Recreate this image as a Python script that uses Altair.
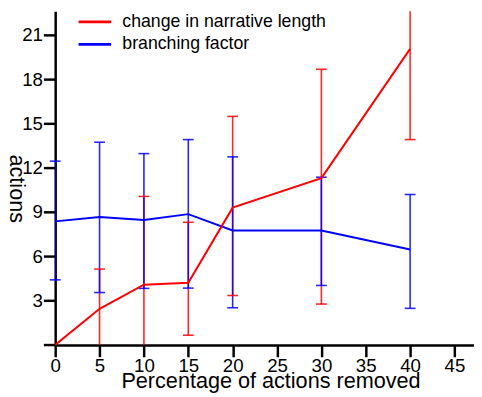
import altair as alt
import pandas as pd

# ---- data ----
pct_removed = [0, 5, 10, 15, 20, 30, 40]
narr_mean = [0.0, 2.45, 4.08, 4.21, 9.3, 11.3, 20.05]
narr_lo = [0.0, -0.3, -1.9, 0.66, 3.35, 2.77, 13.91]
narr_hi = [0.0, 5.14, 10.06, 8.31, 15.48, 18.67, 26.2]
branch_mean = [8.37, 8.66, 8.46, 8.86, 7.75, 7.75, 6.47]
branch_lo = [4.41, 3.55, 3.83, 3.85, 2.52, 4.03, 2.48]
branch_hi = [12.45, 13.73, 12.96, 13.91, 12.74, 11.36, 10.19]
series_names = ["change in narrative length", "branching factor"]
series_colors = ["#ff0000", "#0000ff"]
x_ticks = [0, 5, 10, 15, 20, 25, 30, 35, 40, 45]
y_ticks = [0, 3, 6, 9, 12, 15, 18, 21]
X_MAX = 47.2
Y_MAX = 22.6

rows = []
for i, p in enumerate(pct_removed):
    rows.append(dict(pct=p, val=narr_mean[i], lo=narr_lo[i], hi=narr_hi[i],
                     series=series_names[0]))
for i, p in enumerate(pct_removed):
    rows.append(dict(pct=p, val=branch_mean[i], lo=branch_lo[i], hi=branch_hi[i],
                     series=series_names[1]))
df = pd.DataFrame(rows)

FONT = "Liberation Sans"

x_axis = alt.Axis(
    values=x_ticks, tickSize=12, labelPadding=0, labelFontSize=19, labelFont=FONT,
    labelColor="black", domainColor="black", tickColor="black", domainWidth=2.5,
    tickWidth=2.5, grid=False, labelFlush=False, labelOverlap=False,
    title="Percentage of actions removed", titleFontSize=22, titleFont=FONT,
    titleFontWeight="normal", titleColor="black", titleX=219, titleY=43.5,
    titleBaseline="alphabetic", titleAlign="center",
)
y_axis = alt.Axis(
    values=y_ticks, tickSize=12, labelPadding=1, labelFontSize=19, labelFont=FONT,
    labelColor="black", domainColor="black", tickColor="black", domainWidth=2.5,
    tickWidth=2.5, grid=False, labelFlush=False, labelOverlap=False,
    labelExpr="datum.value == 0 ? '' : datum.label",
    title="actions", titleFontSize=22, titleFont=FONT, titleFontWeight="normal",
    titleColor="black", titleAngle=90, titleX=-46, titleY=180,
    titleBaseline="alphabetic", titleAlign="center",
)
x_scale = alt.Scale(domain=[0, X_MAX], nice=False, zero=False)
y_scale = alt.Scale(domain=[0, Y_MAX], nice=False, zero=False)

color = alt.Color(
    "series:N",
    scale=alt.Scale(domain=series_names, range=series_colors),
    legend=alt.Legend(
        orient="none", legendX=22.3, legendY=-0.6, padding=0, title=None,
        symbolType="stroke", symbolSize=1089, symbolStrokeWidth=2.7,
        symbolOpacity=1, labelFontSize=18, labelFont=FONT, labelColor="black",
        labelOffset=10, labelLimit=400, clipHeight=22.6, rowPadding=0,
    ),
)

X = alt.X("pct:Q", scale=x_scale, axis=x_axis)

def Y(field):
    return alt.Y(f"{field}:Q", scale=y_scale, axis=y_axis)

base = alt.Chart(df)

bars = base.transform_filter("datum.hi > datum.lo").mark_rule(
    strokeWidth=1.6, opacity=0.85, clip=True
).encode(x=X, y=Y("lo"), y2="hi:Q", color=color)

low_caps = base.transform_filter(
    "datum.hi > datum.lo && datum.lo >= 0"
).mark_tick(orient="horizontal", size=11, thickness=1.6, opacity=0.85).encode(
    x=X, y=Y("lo"), color=color)

high_caps = base.transform_filter(
    f"datum.hi > datum.lo && datum.hi <= {Y_MAX}"
).mark_tick(orient="horizontal", size=11, thickness=1.6, opacity=0.85).encode(
    x=X, y=Y("hi"), color=color)

blue_line = base.transform_filter(
    alt.datum.series == series_names[1]
).mark_line(strokeWidth=2, clip=True).encode(x=X, y=Y("val"), color=color)

red_line = base.transform_filter(
    alt.datum.series == series_names[0]
).mark_line(strokeWidth=2, clip=True).encode(x=X, y=Y("val"), color=color)

chart = alt.layer(bars, low_caps, high_caps, blue_line, red_line).properties(
    width=426, height=339.4,
    autosize=alt.AutoSizeParams(type="none"),
    padding={"left": 48, "top": 0, "right": 0, "bottom": 50},
    background="white",
).configure_view(stroke=None)

chart.save("out.html", embed_options={"renderer": "svg", "actions": False})
